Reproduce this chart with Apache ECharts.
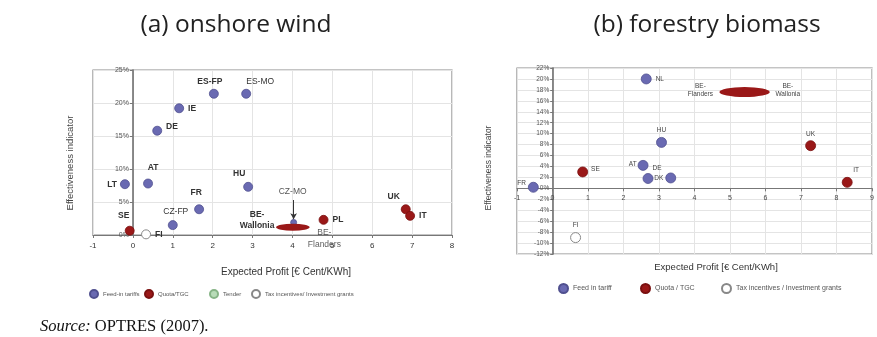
<!DOCTYPE html>
<html><head><meta charset="utf-8">
<script src="https://cdn.jsdelivr.net/npm/echarts@6/dist/echarts.min.js"></script>
<style>html,body{margin:0;padding:0;background:#fff}#c{width:877px;height:337px}</style>
</head><body><div id="c"></div>
<script>
// ---------- (a) onshore wind ----------
const windFeedIn = [['LT',-0.2,7.7],['AT',0.38,7.8],['DE',0.61,15.8],['IE',1.16,19.2],['ES-FP',2.03,21.4],['ES-MO',2.84,21.4],['HU',2.89,7.3],['FR',1.66,3.9],['CZ-FP',1.0,1.5],['CZ-MO',4.03,1.9]];
const windQuota = [['SE',-0.08,0.65],['PL',4.78,2.3],['UK',6.84,3.9],['IT',6.95,2.9]];
const windTender = [];
const windTax = [['FI',0.33,0.1]];
const windRange = [['BE-Wallonia',3.59,4.43,1.17]];      // name, x from, x to, y
const windLabelOnly = [['BE-Flanders',4.8,1.2]];
const windX = [-1, 8, 1];     // min, max, step
const windY = [0, 25, 5];
const windLegend = ['Feed-in tariffs','Quota/TGC','Tender','Tax incentives/ Investment grants'];

// ---------- (b) forestry biomass ----------
const forFeedIn = [['NL',2.64,20.0],['HU',3.07,8.4],['AT',2.55,4.2],['DE',2.69,1.8],['DK',3.33,1.9],['FR',-0.54,0.2]];
const forQuota = [['SE',0.85,3.0],['UK',7.27,7.8],['IT',8.30,1.1]];
const forTax = [['FI',0.65,-9.0]];
const forRange = [['BE-\nFlanders','BE-\nWallonia',4.70,6.12,17.6]];
const forX = [-1, 9, 1];
const forY = [-12, 22, 2];
const forLegend = ['Feed in tariff','Quota / TGC','Tax incentives / Investment grants'];

const BLUE = '#6a6ab2', BLUE_B = '#50508f', RED = '#9a1818', RED_B = '#7a1010', GREEN = '#b8dcb8', GREEN_B = '#86b486';
const SANS = 'Liberation Sans, Arial, sans-serif';

// grid geometry (pixels)
const GA = {left:93, top:70, width:359, height:165};
const GB = {left:517, top:68, width:362, height:186};
// shift axes so that they cross at zero (labels follow the axis line)
const offYA = -GA.width * (0 - windX[0]) / (windX[1] - windX[0]);
const offYB = -GB.width * (0 - forX[0]) / (forX[1] - forX[0]);
const offXB = -GB.height * (0 - forY[0]) / (forY[1] - forY[0]);

const labA = {
  'LT':{position:'left',distance:3},
  'AT':{position:'top',distance:6,offset:[5,0]},
  'DE':{position:'right',distance:4,offset:[0,-4]},
  'IE':{position:'right',distance:4},
  'ES-FP':{position:'top',distance:3,offset:[-4,0]},
  'ES-MO':{position:'top',distance:3,offset:[14,0],fontWeight:'normal'},
  'HU':{position:'top',distance:4,offset:[-9,0]},
  'FR':{position:'top',distance:7,offset:[-3,0]},
  'CZ-FP':{position:'top',distance:4,offset:[3,0],fontWeight:'normal'},
  'CZ-MO':{position:'top',distance:23,offset:[-1,0],fontWeight:'normal',color:'#555'},
  'SE':{position:'top',distance:6,offset:[-6,0]},
  'PL':{position:'right',distance:4},
  'UK':{position:'top',distance:3,offset:[-12,0]},
  'IT':{position:'right',distance:4},
  'FI':{position:'right',distance:4},
  'BE-Flanders':{position:'bottom',distance:0,lineHeight:12,formatter:'BE-\nFlanders'}
};
const labB = {
  'NL':{position:'right',distance:4},
  'HU':{position:'top',distance:3},
  'AT':{position:'left',distance:1,offset:[0,-1]},
  'DE':{position:'top',distance:1,offset:[9,0]},
  'DK':{position:'left',distance:2},
  'FR':{position:'left',distance:2,offset:[0,-4]},
  'SE':{position:'right',distance:3,offset:[0,-3]},
  'UK':{position:'top',distance:3},
  'IT':{position:'top',distance:3,offset:[9,0]},
  'FI':{position:'top',distance:3}
};

function pts(arr, map, extra){
  return arr.map(d => {
    const o = {name:d[0], value:[d[1], d[2]], label: Object.assign({}, map[d[0]] || {})};
    if (extra && extra[d[0]]) Object.assign(o, extra[d[0]]);
    return o;
  });
}
const labelA = {show:true, formatter:'{b}', fontSize:8.5, fontFamily:SANS, color:'#333', fontWeight:'bold'};
const labelB = {show:true, formatter:'{b}', fontSize:6.5, fontFamily:SANS, color:'#444'};

function ellipseSeries(xi, data, ry, labels){
  return {
    type:'custom', xAxisIndex:xi, yAxisIndex:xi, z:5, silent:true,
    data:data,
    renderItem:function(params, api){
      const p1 = api.coord([api.value(0), api.value(2)]);
      const p2 = api.coord([api.value(1), api.value(2)]);
      const cx = (p1[0]+p2[0])/2, rx = (p2[0]-p1[0])/2;
      const ch = [{type:'circle', shape:{cx:0, cy:0, r:1}, x:cx, y:p1[1], scaleX:rx, scaleY:ry,
                   style:{fill:RED}}];
      labels(params.dataIndex, p1, p2).forEach(t => ch.push(t));
      return {type:'group', children:ch};
    }
  };
}

const czmo = windFeedIn.find(d => d[0]==='CZ-MO');

const option = {
  animation:false,
  grid:[
    Object.assign({show:true, borderColor:'#8a8a8a', borderWidth:1.2}, GA),
    Object.assign({show:true, borderColor:'#8a8a8a', borderWidth:1.2}, GB)
  ],
  xAxis:[
    {gridIndex:0, type:'value', min:windX[0], max:windX[1], interval:windX[2], position:'bottom',
     axisLine:{onZero:false, lineStyle:{color:'#777', width:1.2}},
     axisTick:{show:true, length:3, lineStyle:{color:'#777'}},
     axisLabel:{fontSize:8, color:'#333', fontFamily:SANS, margin:7},
     splitLine:{show:true, lineStyle:{color:'#e4e4e4'}}},
    {gridIndex:1, type:'value', min:forX[0], max:forX[1], interval:forX[2], position:'bottom', offset:offXB,
     axisLine:{onZero:false, lineStyle:{color:'#777', width:1.2}},
     axisTick:{show:true, length:3, lineStyle:{color:'#777'}},
     axisLabel:{fontSize:7, color:'#444', fontFamily:SANS, margin:6},
     splitLine:{show:true, lineStyle:{color:'#e4e4e4'}}}
  ],
  yAxis:[
    {gridIndex:0, type:'value', min:windY[0], max:windY[1], interval:windY[2], position:'left', offset:offYA,
     axisLine:{show:true, onZero:false, lineStyle:{color:'#666', width:1.5}},
     axisTick:{show:true, length:3, lineStyle:{color:'#777'}},
     axisLabel:{formatter:'{value}%', fontSize:7, color:'#555', fontFamily:SANS, margin:4},
     splitLine:{show:true, lineStyle:{color:'#e4e4e4'}}},
    {gridIndex:1, type:'value', min:forY[0], max:forY[1], interval:forY[2], position:'left', offset:offYB,
     axisLine:{show:true, onZero:false, lineStyle:{color:'#666', width:1.5}},
     axisTick:{show:true, length:3, lineStyle:{color:'#777'}},
     axisLabel:{formatter:'{value}%', fontSize:6.5, color:'#555', fontFamily:SANS, margin:4},
     splitLine:{show:true, lineStyle:{color:'#e4e4e4'}}}
  ],
  legend:[
    {data:[windLegend[0]], left:89, top:289},
    {data:[windLegend[1]], left:144, top:289},
    {data:[windLegend[2]], left:209, top:289},
    {data:[windLegend[3]], left:251, top:289},
    {data:[forLegend[0]], left:558, top:283},
    {data:[forLegend[1]], left:640, top:283},
    {data:[forLegend[2]], left:721, top:283}
  ].map((l,i) => Object.assign(l, {icon:'circle', itemWidth: i<4?8:9, itemHeight: i<4?8:9, itemGap:4,
      textStyle:{fontSize: i<4?6:7, color:'#555', fontFamily:SANS}, selectedMode:false, padding:0})),
  series:[
    {name:windLegend[0], type:'scatter', xAxisIndex:0, yAxisIndex:0, symbolSize:9,
     itemStyle:{color:BLUE, borderColor:BLUE_B, borderWidth:0.8, opacity:1}, label:labelA,
     data:pts(windFeedIn, labA, {'CZ-MO':{symbolSize:6}}),
     markLine:{silent:true, symbol:['none','arrow'], symbolSize:[5,6], label:{show:false},
       lineStyle:{color:'#333', width:1, type:'solid'},
       data:[[{coord:[czmo[1], czmo[2]+3.4]}, {coord:[czmo[1], czmo[2]+0.5]}]]}},
    {name:windLegend[1], type:'scatter', xAxisIndex:0, yAxisIndex:0, symbolSize:9,
     itemStyle:{color:RED, borderColor:RED_B, borderWidth:0.8, opacity:1}, label:labelA,
     data:pts(windQuota, labA)},
    {name:windLegend[2], type:'scatter', xAxisIndex:0, yAxisIndex:0, symbolSize:9,
     itemStyle:{color:GREEN, borderColor:GREEN_B, borderWidth:0.8, opacity:1}, data:windTender},
    {name:windLegend[3], type:'scatter', xAxisIndex:0, yAxisIndex:0, symbolSize:9,
     itemStyle:{color:'#fff', borderColor:'#888', borderWidth:1, opacity:1}, label:labelA,
     data:pts(windTax, labA)},
    {type:'scatter', xAxisIndex:0, yAxisIndex:0, symbolSize:0, silent:true,
     label:Object.assign({}, labelA, {fontWeight:'normal'}), data:pts(windLabelOnly, labA)},
    ellipseSeries(0, windRange.map(r => [r[1], r[2], r[3]]), 3.5, function(i, p1){
      return [{type:'text', x:p1[0]-19, y:p1[1]-7, style:{text:'BE-\nWallonia', fontSize:8.5, lineHeight:11,
        fontWeight:'bold', fontFamily:SANS, fill:'#333', align:'center', verticalAlign:'middle'}}];
    }),
    {name:forLegend[0], type:'scatter', xAxisIndex:1, yAxisIndex:1, symbolSize:10,
     itemStyle:{color:BLUE, borderColor:BLUE_B, borderWidth:0.8, opacity:1}, label:labelB,
     data:pts(forFeedIn, labB)},
    {name:forLegend[1], type:'scatter', xAxisIndex:1, yAxisIndex:1, symbolSize:10,
     itemStyle:{color:RED, borderColor:RED_B, borderWidth:0.8, opacity:1}, label:labelB,
     data:pts(forQuota, labB)},
    {name:forLegend[2], type:'scatter', xAxisIndex:1, yAxisIndex:1, symbolSize:10,
     itemStyle:{color:'#fff', borderColor:'#888', borderWidth:1, opacity:1}, label:labelB,
     data:pts(forTax, labB)},
    ellipseSeries(1, forRange.map(r => [r[2], r[3], r[4]]), 5, function(i, p1, p2){
      const r = forRange[i];
      const st = {fontSize:6.5, lineHeight:8.5, fontFamily:SANS, fill:'#444', align:'center', verticalAlign:'middle'};
      return [
        {type:'text', x:p1[0]-19, y:p1[1]-2, style:Object.assign({text:r[0]}, st)},
        {type:'text', x:p2[0]+18, y:p1[1]-2, style:Object.assign({text:r[1]}, st)}
      ];
    })
  ],
  graphic:[
    {type:'text', x:236, y:25, style:{text:'(a) onshore wind', font:'24.5px "Open Sans", sans-serif', fill:'#222', align:'center', verticalAlign:'middle'}},
    {type:'text', x:707, y:25, style:{text:'(b) forestry biomass', font:'24.5px "Open Sans", sans-serif', fill:'#222', align:'center', verticalAlign:'middle'}},
    {type:'text', x:286, y:272, style:{text:'Expected Profit [€ Cent/KWh]', font:'10px '+SANS, fill:'#333', align:'center', verticalAlign:'middle'}},
    {type:'text', x:716, y:267, style:{text:'Expected Profit [€ Cent/KWh]', font:'9.5px '+SANS, fill:'#333', align:'center', verticalAlign:'middle'}},
    {type:'text', x:70, y:163, rotation:Math.PI/2, style:{text:'Effectiveness indicator', font:'9.5px '+SANS, fill:'#444', align:'center', verticalAlign:'middle'}},
    {type:'text', x:489, y:168, rotation:Math.PI/2, style:{text:'Effectiveness indicator', font:'8.5px '+SANS, fill:'#444', align:'center', verticalAlign:'middle'}},
    {type:'text', x:40, y:327, style:{text:'{i|Source:} OPTRES (2007).', font:'16.5px "Liberation Serif", serif', fill:'#111', verticalAlign:'middle',
      rich:{i:{fontStyle:'italic', fontSize:16.5, fontFamily:'Liberation Serif, serif'}}}}
  ]
};
const chart = echarts.init(document.getElementById('c'), null, {renderer:'canvas'});
chart.setOption(option);
</script></body></html>
